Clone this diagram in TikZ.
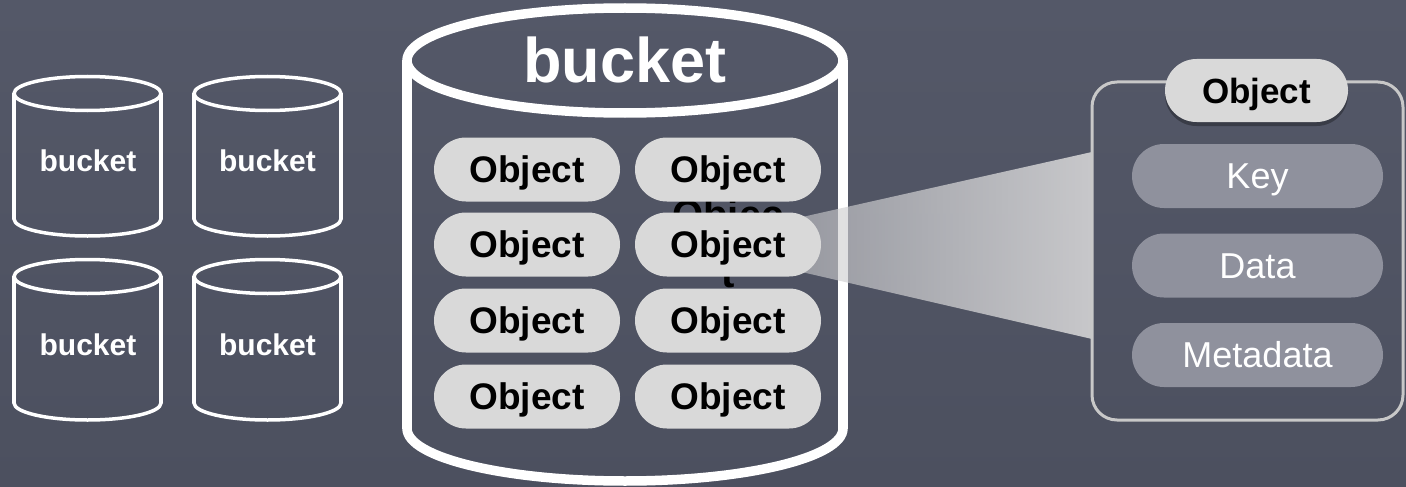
\documentclass[tikz,border=0pt]{standalone}
\usepackage{fontspec}
\setmainfont{Liberation Sans}
\usetikzlibrary{fadings,shadows}
\definecolor{bgtop}{RGB}{84,88,104}
\definecolor{bgbot}{RGB}{76,80,95}
\definecolor{pillfill}{RGB}{217,217,217}
\definecolor{keyfill}{RGB}{143,145,157}
\definecolor{boxline}{RGB}{200,200,200}
\definecolor{beamcol}{RGB}{206,206,208}
\tikzfading[name=beamfade, left color=transparent!45, right color=transparent!5]
\newcommand\drawcyl[6]{%
  \draw[#6] (#1,#2) ellipse [x radius=#4, y radius=#5];
  \draw[#6] (#1-#4,#2) -- (#1-#4,#3);
  \draw[#6] (#1+#4,#2) -- (#1+#4,#3);
  \begin{scope}
    \clip (#1-#4-10,#3) rectangle (#1+#4+10,#3+#5+10);
    \draw[#6] (#1,#3) ellipse [x radius=#4, y radius=#5];
  \end{scope}}
\begin{document}
\begin{tikzpicture}[x=1pt,y=-1pt,
  smallcyl/.style={draw=white, line width=3.5pt},
  bigcyl/.style={draw=white, line width=9.5pt},
  smalllabel/.style={text=white, font=\bfseries\fontsize{30}{36}\selectfont, anchor=base, inner sep=0pt},
  biglabel/.style={text=white, font=\bfseries\fontsize{63}{75}\selectfont, anchor=base, inner sep=0pt},
  pill/.style={fill=pillfill, rounded corners=32pt, minimum width=186pt, minimum height=64pt,
    inner sep=0pt, text height=26.5pt, text depth=0pt, text=black,
    font=\bfseries\fontsize{37}{44}\selectfont},
  ghost/.style={text=black, font=\bfseries\fontsize{40}{48}\selectfont, anchor=base, inner sep=0pt},
  headpill/.style={fill=pillfill, rounded corners=31.5pt, minimum width=183pt, minimum height=63pt,
    inner sep=0pt, text height=25pt, text depth=0pt, text=black,
    font=\bfseries\fontsize{35}{42}\selectfont,
    drop shadow={shadow xshift=0pt, shadow yshift=-4pt, opacity=0.3, fill=black}},
  keypill/.style={fill=keyfill, rounded corners=32pt, minimum width=251pt, minimum height=64pt,
    inner sep=0pt, text height=25.5pt, text depth=0pt, text=white,
    font=\fontsize{36}{43}\selectfont},
  objbox/.style={draw=boxline, line width=3pt, rounded corners=25pt, inner sep=0pt,
    minimum width=311pt, minimum height=338pt}]
\useasboundingbox (0,0) rectangle (1406,487);
\shade[top color=bgtop, bottom color=bgbot] (0,0) rectangle (1406,487);

% small buckets
\drawcyl{87.5}{93.5}{219}{73.5}{17}{smallcyl}
\drawcyl{267.5}{93.5}{219}{73.5}{17}{smallcyl}
\drawcyl{87.5}{276.5}{403}{73.5}{17}{smallcyl}
\drawcyl{267.5}{276.5}{403}{73.5}{17}{smallcyl}
\node[smalllabel] (b1) at (88,171.7) {bucket};
\node[smalllabel] (b2) at (267.5,171.7) {bucket};
\node[smalllabel] (b3) at (88,355) {bucket};
\node[smalllabel] (b4) at (267.5,355) {bucket};

% big bucket
\drawcyl{625}{60.5}{428.5}{218}{52.5}{bigcyl}
\node[biglabel] (bigb) at (625,82) {bucket};

% beam
\fill[beamcol, path fading=beamfade] (780,222) -- (1092,152) -- (1092,339) -- (780,267) -- cycle;

% ghost text
\node[ghost] (g1) at (728,228.6) {Objec};
\node[ghost] (g2) at (728,287) {t};

% objects in bucket
\node[pill] (o11) at (527,169.5) {Object};
\node[pill] (o12) at (728,169.5) {Object};
\node[pill] (o21) at (527,244.5) {Object};
\node[pill] (o22) at (728,244.5) {Object};
\node[pill] (o31) at (527,320.5) {Object};
\node[pill] (o32) at (728,320.5) {Object};
\node[pill] (o41) at (527,396.5) {Object};
\node[pill] (o42) at (728,396.5) {Object};

% object detail box
\node[objbox] (box) at (1247.5,251) {};
\node[headpill] (head) at (1256.5,90.5) {Object};
\node[keypill] (key) at (1257.5,176) {Key};
\node[keypill] (data) at (1257.5,265.5) {Data};
\node[keypill] (meta) at (1257.5,355) {Metadata};
\end{tikzpicture}
\end{document}
